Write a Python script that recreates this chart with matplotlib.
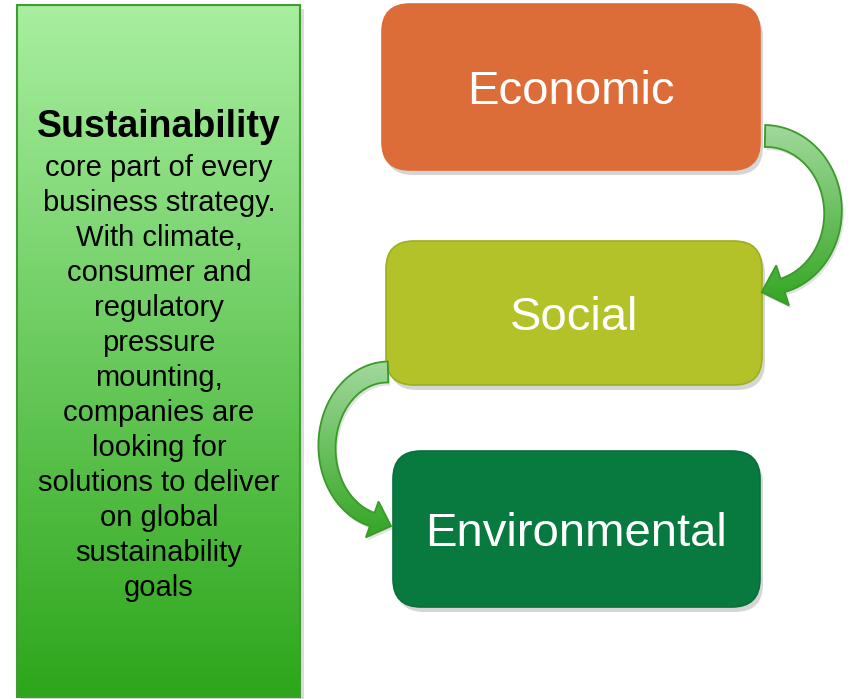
import numpy as np
import matplotlib
matplotlib.use('Agg')
import matplotlib.pyplot as plt
from matplotlib.patches import FancyBboxPatch, Rectangle, Polygon
from matplotlib.colors import LinearSegmentedColormap

plt.rcParams['font.family'] = ['Liberation Sans', 'DejaVu Sans']

# Diagram content
pillars = ['Economic', 'Social', 'Environmental']
pillar_colors = ['#dd6d38', '#b4c22a', '#087a40']
pillar_edges = ['#dd6d38', '#9cae22', '#0a6e3a']
side_title = 'Sustainability'
side_lines = ['core part of every', 'business strategy.', 'With climate,',
              'consumer and', 'regulatory', 'pressure', 'mounting,',
              'companies are', 'looking for', 'solutions to deliver',
              'on global', 'sustainability', 'goals']

# box geometry in pixels (x0, y0, x1, y1)
pillar_boxes = [(382, 4, 760, 170), (386, 241, 762, 385), (393, 451, 760, 607)]

fig = plt.figure(figsize=(8.5, 6.99), dpi=100)
ax = fig.add_axes([0, 0, 1, 1])
ax.axis('off')


def gradient_fill(patch, top, bottom, y0, y1, x0, x1):
    cmap = LinearSegmentedColormap.from_list('g', [top, bottom])
    grad = np.linspace(0, 1, 256).reshape(-1, 1)
    im = ax.imshow(grad, cmap=cmap, extent=(x0, x1, y1, y0), origin='upper',
                   aspect='auto', zorder=patch.get_zorder())
    im.set_clip_path(patch)


# left panel
ax.add_patch(Rectangle((21, 9), 283, 692, facecolor='#999999', alpha=0.35,
                       edgecolor='none', zorder=1))
left = Rectangle((17, 5), 283, 692, facecolor='none', edgecolor='#3f9c30',
                 linewidth=1.5, zorder=3)
ax.add_patch(left)
clip = Rectangle((17, 5), 283, 692, facecolor='none', edgecolor='none', zorder=2)
ax.add_patch(clip)
gradient_fill(clip, '#a8efa0', '#2da61b', 5, 697, 17, 300)

ax.text(159, 127, side_title, ha='center', va='center', fontsize=27,
        fontweight='bold', color='black', zorder=4)
for i, line in enumerate(side_lines):
    ax.text(159, 168 + i * 35, line, ha='center', va='center', fontsize=21,
            color='black', zorder=4)

# pillar boxes
for name, fc, ec, (x0, y0, x1, y1) in zip(pillars, pillar_colors, pillar_edges, pillar_boxes):
    ax.add_patch(FancyBboxPatch((x0 + 3, y0 + 5), x1 - x0, y1 - y0,
                                boxstyle='round,pad=0,rounding_size=28',
                                facecolor='#777777', alpha=0.3, edgecolor='none', zorder=1))
    ax.add_patch(FancyBboxPatch((x0, y0), x1 - x0, y1 - y0,
                                boxstyle='round,pad=0,rounding_size=28',
                                facecolor=fc, edgecolor=ec, linewidth=1.2, zorder=2))
    ax.text((x0 + x1) / 2, (y0 + y1) / 2 + 5, name, ha='center', va='center',
            fontsize=34, color='white', zorder=3)


def curved_arrow(cx, cy, rx, ry, t0, t1, w0, w1, head_len, head_w):
    t = np.radians(np.linspace(t0, t1, 80))
    px = cx + rx * np.cos(t)
    py = cy - ry * np.sin(t)
    dx = np.gradient(px)
    dy = np.gradient(py)
    n = np.hypot(dx, dy)
    tx, ty = dx / n, dy / n
    nx, ny = -ty, tx
    w = np.linspace(w0, w1, len(t)) / 2
    a = np.column_stack([px + nx * w, py + ny * w])
    b = np.column_stack([px - nx * w, py - ny * w])
    ex, ey = px[-1], py[-1]
    head = [(ex + nx[-1] * head_w / 2, ey + ny[-1] * head_w / 2),
            (ex + tx[-1] * head_len, ey + ty[-1] * head_len),
            (ex - nx[-1] * head_w / 2, ey - ny[-1] * head_w / 2)]
    pts = np.vstack([a, head, b[::-1]])
    shadow = Polygon(pts + [2, 3], closed=True, facecolor='#888888', alpha=0.25,
                     edgecolor='none', zorder=4)
    ax.add_patch(shadow)
    poly = Polygon(pts, closed=True, facecolor='none', edgecolor='#3a9a2a',
                   linewidth=1.3, zorder=6)
    ax.add_patch(poly)
    cl = Polygon(pts, closed=True, facecolor='none', edgecolor='none', zorder=5)
    ax.add_patch(cl)
    gradient_fill(cl, '#a2d99c', '#33a623', pts[:, 1].min(), pts[:, 1].max(),
                  pts[:, 0].min(), pts[:, 0].max())


curved_arrow(765, 212, 68, 76, 90, -75, 22, 14, 22, 42)
curved_arrow(388, 447, 61, 75, 90, 255, 21, 14, 20, 38)

ax.set_xlim(0, 850)
ax.set_ylim(699, 0)

fig.savefig('out.png', dpi=100)
